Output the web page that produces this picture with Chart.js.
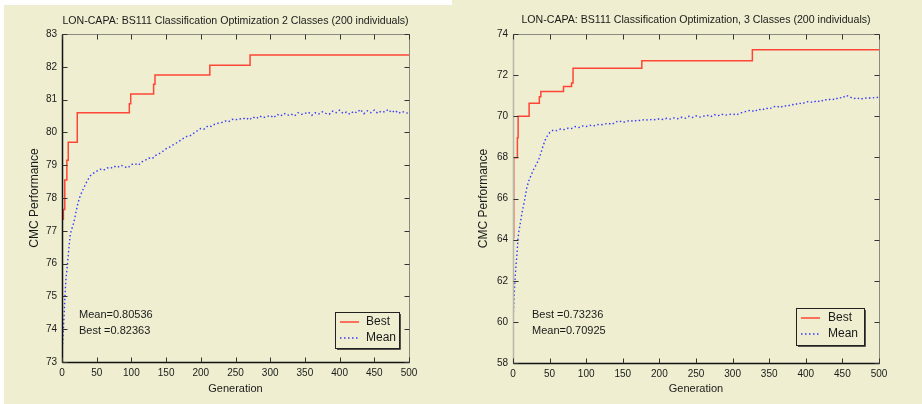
<!DOCTYPE html>
<html><head><meta charset="utf-8">
<script src="https://cdn.jsdelivr.net/npm/chart.js@4.4.1/dist/chart.umd.min.js"></script>
<style>
html,body{margin:0;padding:0;background:#fff;}
#wrap{position:relative;width:922px;height:404px;overflow:hidden;}
.bg1{position:absolute;left:4px;top:5px;width:450px;height:399px;background:#EFEED0;}
.bg2{position:absolute;left:452px;top:0;width:470px;height:404px;background:#EFEED0;}
.c{position:absolute;top:0;}
canvas{display:block;}
</style></head><body>
<div id="wrap"><div class="bg1"></div><div class="bg2"></div>
<div class="c" style="left:0;"><canvas id="c1" width="455" height="404"></canvas></div>
<div class="c" style="left:455px;"><canvas id="c2" width="467" height="404"></canvas></div>
</div>
<script>
// ---------- data: 2 classes ----------
const title2 = 'LON-CAPA: BS111 Classification Optimization 2 Classes (200 individuals)';
const best2Gen = [0, 2, 4, 7, 9, 22, 97, 99, 132, 134, 213, 271, 500];
const best2 = [77.35, 77.65, 78.55, 79.15, 79.7, 80.6, 80.87, 81.17, 81.47, 81.75, 82.05, 82.36, 82.36];
const mean2Gen = [0,1,2,3,4,5,6,7,8,10,12,14,17,20,23,26,29,33,37,41,45,50,
  55,60,65,70,75,80,85,90,95,100,105,110,115,120,125,130,135,140,145,150,155,160,165,170,175,180,185,190,195,200,
  205,210,215,220,225,230,235,240,245,250,255,260,265,270,275,280,285,290,295,300,305,310,315,320,325,330,335,340,345,350,
  355,360,365,370,375,380,385,390,395,400,405,410,415,420,425,430,435,440,445,450,455,460,465,470,475,480,485,490,495,500];
const mean2 = [73.3,73.6,74.0,74.4,74.9,75.3,75.6,75.8,76.0,76.5,76.9,77.05,77.25,77.55,77.85,78.05,78.2,78.38,78.55,78.68,78.75,78.82,
  78.88,78.85,78.92,78.9,78.97,78.93,79.0,78.95,78.92,79.02,79.05,79.0,79.1,79.15,79.22,79.2,79.3,79.35,79.42,79.5,79.55,79.62,79.68,79.75,79.82,79.88,79.9,79.98,80.05,80.12,
  80.1,80.2,80.18,80.25,80.28,80.3,80.35,80.32,80.4,80.38,80.42,80.4,80.45,80.38,80.47,80.42,80.5,80.45,80.48,80.52,80.45,80.55,80.5,80.58,80.52,80.56,80.5,80.6,80.55,80.58,
  80.62,80.52,80.6,80.56,80.63,80.58,80.55,80.65,80.6,80.68,80.58,80.62,80.55,80.64,80.6,80.7,80.57,80.66,80.6,80.68,80.58,80.65,80.62,80.7,80.6,80.67,80.58,80.64,80.6,80.58];
const notes2 = ['Mean=0.80536', 'Best =0.82363'];
const yTicks2 = {min: 73, max: 83, step: 1};

// ---------- data: 3 classes ----------
const title3 = 'LON-CAPA: BS111 Classification Optimization, 3 Classes (200 individuals)';
const best3Gen = [0, 1, 6, 7, 22, 36, 38, 69, 80, 82, 176, 327, 500];
const best3 = [64.1, 67.98, 68.95, 70.0, 70.63, 70.95, 71.2, 71.45, 71.62, 72.33, 72.7, 73.24, 73.24];
const mean3Gen = [0,1,2,3,4,5,6,7,8,10,12,14,16,19,22,25,28,31,35,38,41,44,47,50,
  55,60,65,70,75,80,85,90,95,100,105,110,115,120,125,130,135,140,145,150,155,160,165,170,175,180,185,190,195,200,
  205,210,215,220,225,230,235,240,245,250,255,260,265,270,275,280,285,290,295,300,305,310,315,320,325,330,335,340,345,350,
  355,360,365,370,375,380,385,390,395,400,405,410,415,420,425,430,435,440,445,450,455,460,465,470,475,480,485,490,495,500];
const mean3 = [59.9,60.8,61.6,62.2,62.7,63.1,63.6,64.1,64.4,64.8,65.25,65.6,65.95,66.55,66.9,67.15,67.4,67.6,67.87,68.2,68.55,68.85,69.05,69.2,
  69.33,69.3,69.38,69.35,69.42,69.4,69.5,69.45,69.53,69.5,69.56,69.52,69.6,69.58,69.62,69.66,69.6,69.72,69.78,69.7,69.75,69.8,69.74,69.82,69.78,69.85,69.8,69.86,69.82,69.88,
  69.84,69.9,69.86,69.92,69.88,69.95,69.9,70.0,69.94,70.02,69.96,70.0,70.05,69.98,70.08,70.02,70.1,70.05,70.08,70.12,70.06,70.15,70.2,70.25,70.3,70.22,70.35,70.3,70.4,70.35,
  70.45,70.5,70.42,70.52,70.48,70.58,70.55,70.65,70.6,70.7,70.72,70.66,70.76,70.7,70.82,70.78,70.85,70.8,70.92,70.88,71.02,70.95,70.85,70.9,70.82,70.9,70.86,70.92,70.88,70.95];
const notes3 = ['Best =0.73236', 'Mean=0.70925'];
const yTicks3 = {min: 58, max: 74, step: 2};

const xTicks = {min: 0, max: 500, step: 50};
const seriesNames = ['Best', 'Mean'];

// ---------- styling ----------
const BG = '#EFEED0';
const FONT = "'Liberation Sans', Arial, sans-serif";
const TXT = '#1a1a1a';
const RED = '#FF4636';
const BLUE = '#3a3aff';

const matlabPlugin = {
  id: 'matlab',
  afterDraw(chart, args, o) {
    const ctx = chart.ctx, a = chart.chartArea;
    const xs = chart.scales.x, ys = chart.scales.y;
    ctx.save();
    ctx.lineWidth = 1;
    const L = Math.round(a.left) + 0.5, R = Math.round(a.right) + 0.5, T = Math.round(a.top) + 0.5, B = Math.round(a.bottom) + 0.5;
    ctx.strokeStyle = '#8a8a80';
    ctx.beginPath(); ctx.moveTo(L, T); ctx.lineTo(R, T); ctx.lineTo(R, B); ctx.stroke();
    ctx.strokeStyle = o.leftAxisColor;
    ctx.lineWidth = o.leftAxisWidth;
    ctx.beginPath(); ctx.moveTo(L, T); ctx.lineTo(L, B); ctx.stroke();
    ctx.strokeStyle = '#111'; ctx.lineWidth = 1.5;
    ctx.beginPath(); ctx.moveTo(L, B); ctx.lineTo(R, B); ctx.stroke();
    ctx.lineWidth = 1; ctx.strokeStyle = '#333';
    xs.ticks.forEach(t => {
      const p = Math.round(xs.getPixelForValue(t.value)) + 0.5;
      ctx.beginPath(); ctx.moveTo(p, B); ctx.lineTo(p, B - 5); ctx.moveTo(p, T); ctx.lineTo(p, T + 5); ctx.stroke();
    });
    ys.ticks.forEach(t => {
      const p = Math.round(ys.getPixelForValue(t.value)) + 0.5;
      ctx.beginPath(); ctx.moveTo(L, p); ctx.lineTo(L + 5, p); ctx.moveTo(R, p); ctx.lineTo(R - 5, p); ctx.stroke();
    });
    ctx.fillStyle = TXT;
    ctx.font = '10.6px ' + FONT;
    ctx.textAlign = 'center'; ctx.textBaseline = 'middle';
    ctx.fillText(o.title, (a.left + a.right) / 2, o.titleY);
    ctx.textAlign = 'left';
    ctx.font = '11px ' + FONT;
    o.notes.forEach((n, i) => ctx.fillText(n, a.left + o.noteX, a.bottom - o.noteY + i * 16));
    const lx = a.right - o.legRight, ly = a.bottom - o.legBottom, lw = o.legW, lh = o.legH;
    ctx.fillStyle = BG;
    ctx.fillRect(lx, ly, lw, lh);
    ctx.strokeStyle = '#222'; ctx.lineWidth = 1;
    ctx.strokeRect(Math.round(lx) + 0.5, Math.round(ly) + 0.5, lw, lh);
    ctx.lineWidth = 1.5;
    ctx.beginPath(); ctx.moveTo(lx + lw + 1, ly + 2); ctx.lineTo(lx + lw + 1, ly + lh + 1); ctx.lineTo(lx + 2, ly + lh + 1); ctx.stroke();
    chart.data.datasets.forEach((ds, i) => {
      const yy = ly + o.legRow0 + i * o.legRowGap;
      ctx.strokeStyle = ds.borderColor; ctx.lineWidth = ds.borderWidth;
      ctx.setLineDash(ds.borderDash || []);
      ctx.beginPath(); ctx.moveTo(lx + 5, yy); ctx.lineTo(lx + 24, yy); ctx.stroke();
      ctx.setLineDash([]);
      ctx.fillStyle = TXT; ctx.font = '12px ' + FONT;
      ctx.fillText(ds.label, lx + o.legText, yy);
    });
    ctx.restore();
  }
};

function pts(g, v) { return g.map((x, i) => ({x: x, y: v[i]})); }

function makeChart(id, cfg) {
  return new Chart(document.getElementById(id), {
    type: 'line',
    data: {
      datasets: [
        {label: seriesNames[0], data: pts(cfg.bestGen, cfg.best), borderColor: RED, borderWidth: 1.5, stepped: true, pointRadius: 0, fill: false},
        {label: seriesNames[1], data: pts(cfg.meanGen, cfg.mean), borderColor: BLUE, borderWidth: 1.4, borderDash: [1.5, 2.5], pointRadius: 0, fill: false, tension: 0}
      ]
    },
    options: {
      responsive: false, animation: false, devicePixelRatio: 1,
      layout: {padding: {left: cfg.padL, right: cfg.padR, top: 34, bottom: 4}},
      plugins: {
        legend: {display: false}, title: {display: false}, tooltip: {enabled: false},
        matlab: cfg.plug
      },
      scales: {
        x: {
          type: 'linear', min: xTicks.min, max: xTicks.max,
          ticks: {stepSize: xTicks.step, color: TXT, font: {family: FONT, size: 10}, padding: 5, maxRotation: 0},
          grid: {display: false, drawTicks: false}, border: {display: false},
          title: {display: true, text: 'Generation', color: TXT, font: {family: FONT, size: 11}, padding: {top: 4, bottom: 4}},
          afterFit: s => { s.height = cfg.xH; }
        },
        y: {
          type: 'linear', min: cfg.yt.min, max: cfg.yt.max,
          ticks: {stepSize: cfg.yt.step, color: TXT, font: {family: FONT, size: 10}, padding: 5},
          grid: {display: false, drawTicks: false}, border: {display: false},
          title: {display: true, text: 'CMC Performance', color: TXT, font: {family: FONT, size: 12}, padding: {top: 3, bottom: 4}},
          afterFit: s => { s.width = cfg.yW; }
        }
      }
    },
    plugins: [matlabPlugin]
  });
}

makeChart('c1', {
  bestGen: best2Gen, best: best2, meanGen: mean2Gen, mean: mean2, yt: yTicks2,
  padL: 24, padR: 46, xH: 38, yW: 38,
  plug: {title: title2, titleY: 21, notes: notes2, noteX: 17, noteY: 47,
    leftAxisColor: '#111', leftAxisWidth: 1.5,
    legRight: 74, legBottom: 50, legW: 64, legH: 36, legRow0: 10, legRowGap: 16, legText: 31}
});
makeChart('c2', {
  bestGen: best3Gen, best: best3, meanGen: mean3Gen, mean: mean3, yt: yTicks3,
  padL: 18, padR: 43, xH: 37, yW: 40,
  plug: {title: title3, titleY: 20, notes: notes3, noteX: 19, noteY: 48,
    leftAxisColor: '#b8b8a8', leftAxisWidth: 1.5,
    legRight: 83, legBottom: 55, legW: 68, legH: 37, legRow0: 10, legRowGap: 16, legText: 32}
});
</script>
</body></html>
